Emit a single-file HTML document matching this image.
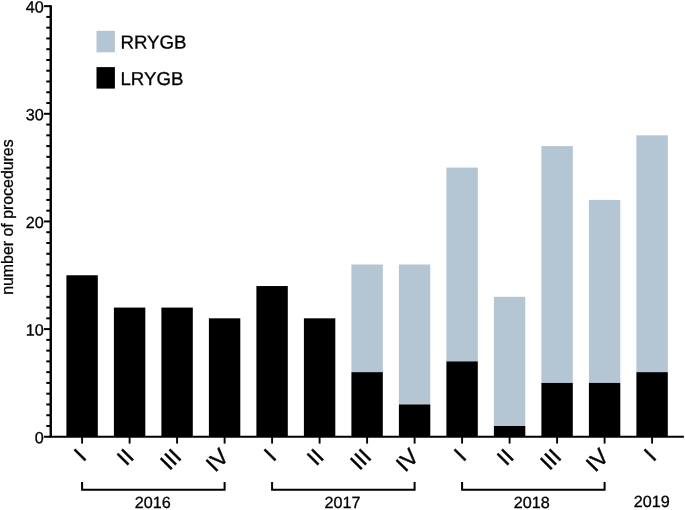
<!DOCTYPE html><html><head><meta charset="utf-8"><title>chart</title><style>html,body{margin:0;padding:0;background:#fff}svg{display:block}text{font-family:"Liberation Sans",Arial,Helvetica,sans-serif;fill:#000;stroke:#000;stroke-width:0.3px}</style></head><body>
<svg width="685" height="510" viewBox="0 0 685 510">
<rect width="685" height="510" fill="#fff"/>
<rect x="66.40" y="275.27" width="31.4" height="161.48" fill="#000"/>
<rect x="113.90" y="307.57" width="31.4" height="129.18" fill="#000"/>
<rect x="161.40" y="307.57" width="31.4" height="129.18" fill="#000"/>
<rect x="208.90" y="318.33" width="31.4" height="118.42" fill="#000"/>
<rect x="256.40" y="286.04" width="31.4" height="150.71" fill="#000"/>
<rect x="303.90" y="318.33" width="31.4" height="118.42" fill="#000"/>
<rect x="351.40" y="264.51" width="31.4" height="107.65" fill="#b4c5d3"/>
<rect x="351.40" y="372.16" width="31.4" height="64.59" fill="#000"/>
<rect x="398.90" y="264.51" width="31.4" height="139.94" fill="#b4c5d3"/>
<rect x="398.90" y="404.45" width="31.4" height="32.30" fill="#000"/>
<rect x="446.40" y="167.62" width="31.4" height="193.77" fill="#b4c5d3"/>
<rect x="446.40" y="361.39" width="31.4" height="75.36" fill="#000"/>
<rect x="493.90" y="296.81" width="31.4" height="129.18" fill="#b4c5d3"/>
<rect x="493.90" y="425.99" width="31.4" height="10.76" fill="#000"/>
<rect x="541.40" y="146.09" width="31.4" height="236.83" fill="#b4c5d3"/>
<rect x="541.40" y="382.93" width="31.4" height="53.82" fill="#000"/>
<rect x="588.90" y="199.92" width="31.4" height="183.01" fill="#b4c5d3"/>
<rect x="588.90" y="382.93" width="31.4" height="53.82" fill="#000"/>
<rect x="636.40" y="135.33" width="31.4" height="236.83" fill="#b4c5d3"/>
<rect x="636.40" y="372.16" width="31.4" height="64.59" fill="#000"/>
<line x1="44.0" x2="50.75" y1="436.75" y2="436.75" stroke="#000" stroke-width="2.0"/>
<text transform="translate(43.8,443.20) rotate(0.05)" font-size="16.2" text-anchor="end">0</text>
<line x1="46.3" x2="50.75" y1="425.99" y2="425.99" stroke="#000" stroke-width="2.0"/>
<line x1="46.3" x2="50.75" y1="415.22" y2="415.22" stroke="#000" stroke-width="2.0"/>
<line x1="46.3" x2="50.75" y1="404.45" y2="404.45" stroke="#000" stroke-width="2.0"/>
<line x1="46.3" x2="50.75" y1="393.69" y2="393.69" stroke="#000" stroke-width="2.0"/>
<line x1="46.3" x2="50.75" y1="382.93" y2="382.93" stroke="#000" stroke-width="2.0"/>
<line x1="46.3" x2="50.75" y1="372.16" y2="372.16" stroke="#000" stroke-width="2.0"/>
<line x1="46.3" x2="50.75" y1="361.39" y2="361.39" stroke="#000" stroke-width="2.0"/>
<line x1="46.3" x2="50.75" y1="350.63" y2="350.63" stroke="#000" stroke-width="2.0"/>
<line x1="46.3" x2="50.75" y1="339.87" y2="339.87" stroke="#000" stroke-width="2.0"/>
<line x1="44.0" x2="50.75" y1="329.10" y2="329.10" stroke="#000" stroke-width="2.0"/>
<text transform="translate(43.8,335.55) rotate(0.05)" font-size="16.2" text-anchor="end">10</text>
<line x1="46.3" x2="50.75" y1="318.33" y2="318.33" stroke="#000" stroke-width="2.0"/>
<line x1="46.3" x2="50.75" y1="307.57" y2="307.57" stroke="#000" stroke-width="2.0"/>
<line x1="46.3" x2="50.75" y1="296.81" y2="296.81" stroke="#000" stroke-width="2.0"/>
<line x1="46.3" x2="50.75" y1="286.04" y2="286.04" stroke="#000" stroke-width="2.0"/>
<line x1="46.3" x2="50.75" y1="275.27" y2="275.27" stroke="#000" stroke-width="2.0"/>
<line x1="46.3" x2="50.75" y1="264.51" y2="264.51" stroke="#000" stroke-width="2.0"/>
<line x1="46.3" x2="50.75" y1="253.75" y2="253.75" stroke="#000" stroke-width="2.0"/>
<line x1="46.3" x2="50.75" y1="242.98" y2="242.98" stroke="#000" stroke-width="2.0"/>
<line x1="46.3" x2="50.75" y1="232.21" y2="232.21" stroke="#000" stroke-width="2.0"/>
<line x1="44.0" x2="50.75" y1="221.45" y2="221.45" stroke="#000" stroke-width="2.0"/>
<text transform="translate(43.8,227.90) rotate(0.05)" font-size="16.2" text-anchor="end">20</text>
<line x1="46.3" x2="50.75" y1="210.69" y2="210.69" stroke="#000" stroke-width="2.0"/>
<line x1="46.3" x2="50.75" y1="199.92" y2="199.92" stroke="#000" stroke-width="2.0"/>
<line x1="46.3" x2="50.75" y1="189.15" y2="189.15" stroke="#000" stroke-width="2.0"/>
<line x1="46.3" x2="50.75" y1="178.39" y2="178.39" stroke="#000" stroke-width="2.0"/>
<line x1="46.3" x2="50.75" y1="167.62" y2="167.62" stroke="#000" stroke-width="2.0"/>
<line x1="46.3" x2="50.75" y1="156.86" y2="156.86" stroke="#000" stroke-width="2.0"/>
<line x1="46.3" x2="50.75" y1="146.09" y2="146.09" stroke="#000" stroke-width="2.0"/>
<line x1="46.3" x2="50.75" y1="135.33" y2="135.33" stroke="#000" stroke-width="2.0"/>
<line x1="46.3" x2="50.75" y1="124.56" y2="124.56" stroke="#000" stroke-width="2.0"/>
<line x1="44.0" x2="50.75" y1="113.80" y2="113.80" stroke="#000" stroke-width="2.0"/>
<text transform="translate(43.8,120.25) rotate(0.05)" font-size="16.2" text-anchor="end">30</text>
<line x1="46.3" x2="50.75" y1="103.03" y2="103.03" stroke="#000" stroke-width="2.0"/>
<line x1="46.3" x2="50.75" y1="92.27" y2="92.27" stroke="#000" stroke-width="2.0"/>
<line x1="46.3" x2="50.75" y1="81.50" y2="81.50" stroke="#000" stroke-width="2.0"/>
<line x1="46.3" x2="50.75" y1="70.74" y2="70.74" stroke="#000" stroke-width="2.0"/>
<line x1="46.3" x2="50.75" y1="59.97" y2="59.97" stroke="#000" stroke-width="2.0"/>
<line x1="46.3" x2="50.75" y1="49.21" y2="49.21" stroke="#000" stroke-width="2.0"/>
<line x1="46.3" x2="50.75" y1="38.44" y2="38.44" stroke="#000" stroke-width="2.0"/>
<line x1="46.3" x2="50.75" y1="27.68" y2="27.68" stroke="#000" stroke-width="2.0"/>
<line x1="46.3" x2="50.75" y1="16.91" y2="16.91" stroke="#000" stroke-width="2.0"/>
<line x1="44.0" x2="50.75" y1="6.15" y2="6.15" stroke="#000" stroke-width="2.0"/>
<text transform="translate(43.8,12.60) rotate(0.05)" font-size="16.2" text-anchor="end">40</text>
<line x1="50.75" x2="50.75" y1="5.20" y2="436.75" stroke="#000" stroke-width="2.4"/>
<line x1="49.65" x2="683.9" y1="436.75" y2="436.75" stroke="#000" stroke-width="2"/>
<line x1="82.10" x2="82.10" y1="436.75" y2="443.6" stroke="#000" stroke-width="1.9"/>
<text transform="translate(87.60,458.1) rotate(-45)" font-size="22.3" text-anchor="end" style="stroke-width:0.4px">I</text>
<line x1="129.60" x2="129.60" y1="436.75" y2="443.6" stroke="#000" stroke-width="1.9"/>
<text transform="translate(135.10,458.1) rotate(-45)" font-size="22.3" text-anchor="end" style="stroke-width:0.4px">II</text>
<line x1="177.10" x2="177.10" y1="436.75" y2="443.6" stroke="#000" stroke-width="1.9"/>
<text transform="translate(182.60,458.1) rotate(-45)" font-size="22.3" text-anchor="end" style="stroke-width:0.4px">III</text>
<line x1="224.60" x2="224.60" y1="436.75" y2="443.6" stroke="#000" stroke-width="1.9"/>
<text transform="translate(230.10,458.1) rotate(-45)" font-size="22.3" text-anchor="end" style="stroke-width:0.4px">IV</text>
<line x1="272.10" x2="272.10" y1="436.75" y2="443.6" stroke="#000" stroke-width="1.9"/>
<text transform="translate(277.60,458.1) rotate(-45)" font-size="22.3" text-anchor="end" style="stroke-width:0.4px">I</text>
<line x1="319.60" x2="319.60" y1="436.75" y2="443.6" stroke="#000" stroke-width="1.9"/>
<text transform="translate(325.10,458.1) rotate(-45)" font-size="22.3" text-anchor="end" style="stroke-width:0.4px">II</text>
<line x1="367.10" x2="367.10" y1="436.75" y2="443.6" stroke="#000" stroke-width="1.9"/>
<text transform="translate(372.60,458.1) rotate(-45)" font-size="22.3" text-anchor="end" style="stroke-width:0.4px">III</text>
<line x1="414.60" x2="414.60" y1="436.75" y2="443.6" stroke="#000" stroke-width="1.9"/>
<text transform="translate(420.10,458.1) rotate(-45)" font-size="22.3" text-anchor="end" style="stroke-width:0.4px">IV</text>
<line x1="462.10" x2="462.10" y1="436.75" y2="443.6" stroke="#000" stroke-width="1.9"/>
<text transform="translate(467.60,458.1) rotate(-45)" font-size="22.3" text-anchor="end" style="stroke-width:0.4px">I</text>
<line x1="509.60" x2="509.60" y1="436.75" y2="443.6" stroke="#000" stroke-width="1.9"/>
<text transform="translate(515.10,458.1) rotate(-45)" font-size="22.3" text-anchor="end" style="stroke-width:0.4px">II</text>
<line x1="557.10" x2="557.10" y1="436.75" y2="443.6" stroke="#000" stroke-width="1.9"/>
<text transform="translate(562.60,458.1) rotate(-45)" font-size="22.3" text-anchor="end" style="stroke-width:0.4px">III</text>
<line x1="604.60" x2="604.60" y1="436.75" y2="443.6" stroke="#000" stroke-width="1.9"/>
<text transform="translate(610.10,458.1) rotate(-45)" font-size="22.3" text-anchor="end" style="stroke-width:0.4px">IV</text>
<line x1="652.10" x2="652.10" y1="436.75" y2="443.6" stroke="#000" stroke-width="1.9"/>
<text transform="translate(657.60,458.1) rotate(-45)" font-size="22.3" text-anchor="end" style="stroke-width:0.4px">I</text>
<path d="M82.10,482.1 V489.8 H224.60 V482.1" fill="none" stroke="#000" stroke-width="2"/>
<text transform="translate(152.65,507.9) rotate(0.05)" font-size="16.2" text-anchor="middle">2016</text>
<path d="M272.10,482.1 V489.8 H414.60 V482.1" fill="none" stroke="#000" stroke-width="2"/>
<text transform="translate(342.55,507.9) rotate(0.05)" font-size="16.2" text-anchor="middle">2017</text>
<path d="M462.10,482.1 V489.8 H604.60 V482.1" fill="none" stroke="#000" stroke-width="2"/>
<text transform="translate(531.85,507.9) rotate(0.05)" font-size="16.2" text-anchor="middle">2018</text>
<text transform="translate(651.80,507.1) rotate(0.05)" font-size="16.2" text-anchor="middle">2019</text>
<rect x="96.5" y="30.8" width="18.4" height="21.5" fill="#b4c5d3"/>
<rect x="96.5" y="67.1" width="18.4" height="21.5" fill="#000"/>
<text transform="translate(120.4,48.4) rotate(0.05)" font-size="18.7">RRYGB</text>
<text transform="translate(120.4,84.9) rotate(0.05)" font-size="18.7">LRYGB</text>
<text transform="translate(12.8,217.1) rotate(-90)" font-size="15.9" text-anchor="middle">number of procedures</text>
</svg></body></html>
